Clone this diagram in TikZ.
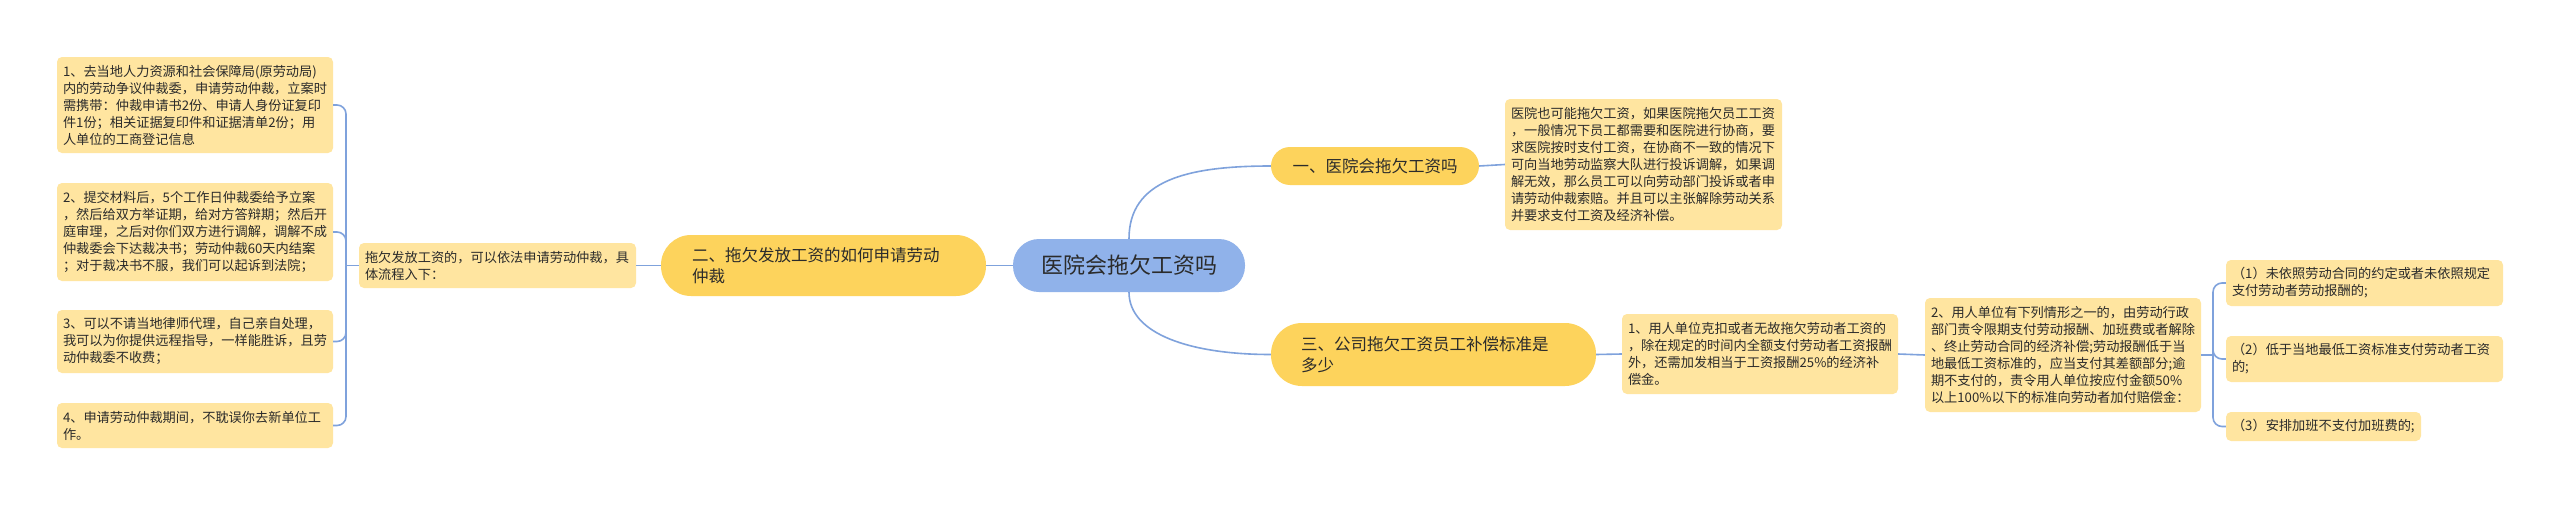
\documentclass[tikz,border=0pt]{standalone}
\usepackage{fontspec}
\newfontfamily\cjk{Noto Sans CJK SC}
\definecolor{leaf}{HTML}{FFE5A0}
\definecolor{topic}{HTML}{FDD35C}
\definecolor{central}{HTML}{90B2EA}
\definecolor{link}{HTML}{7FA2DC}
\definecolor{txt}{HTML}{2B2B2B}
\tikzset{
  leafbox/.style={draw=none, fill=leaf, rounded corners=5pt, inner xsep=6pt, inner ysep=0pt,
    text width=264pt, align=left, text=txt, font=\cjk\fontsize{13.2}{17}\selectfont},
  topicbox/.style={draw=none, fill=topic, inner ysep=0pt, text=txt,
    font=\cjk\fontsize{16.5}{21.5}\selectfont},
  centralbox/.style={draw=none, fill=central, rounded corners=26pt, inner sep=0pt, text=txt,
    minimum width=232pt, minimum height=53pt, font=\cjk\fontsize{22}{26}\selectfont},
  linkline/.style={draw=link, line width=1.6pt},
}
\begin{document}
\begin{tikzpicture}[x=1pt,y=-1pt]
\useasboundingbox (0,0) rectangle (2560,506);
\fill[white] (0,0) rectangle (2560,506);

% central
\node[centralbox] (C) at (1129,265.5) {医院会拖欠工资吗};

% topics
\node[topicbox, rounded corners=19pt, minimum width=208pt, minimum height=38pt, inner xsep=0pt] (T1) at (1375,166) {一、医院会拖欠工资吗};
\node[topicbox, rounded corners=30pt, text width=263pt, align=left, inner xsep=31pt, minimum height=61pt] (T2) at (823.5,265.5) {二、拖欠发放工资的如何申请劳动\\仲裁};
\node[topicbox, rounded corners=31pt, text width=265pt, align=left, inner xsep=30pt, minimum height=63pt] (T3) at (1433.5,354.5) {三、公司拖欠工资员工补偿标准是\\多少};

% left side
\node[leafbox, text width=265pt, minimum height=45pt] (M) at (497.5,265.5) {拖欠发放工资的，可以依法申请劳动仲裁，具\\体流程入下：};
\node[leafbox, minimum height=96pt] (L1) at (195,105) {1、去当地人力资源和社会保障局(原劳动局)\\内的劳动争议仲裁委，申请劳动仲裁，立案时\\需携带：仲裁申请书2份、申请人身份证复印\\件1份；相关证据复印件和证据清单2份；用\\人单位的工商登记信息};
\node[leafbox, minimum height=98pt] (L2) at (195,232) {2、提交材料后，5个工作日仲裁委给予立案\\，然后给双方举证期，给对方答辩期；然后开\\庭审理，之后对你们双方进行调解，调解不成\\仲裁委会下达裁决书；劳动仲裁60天内结案\\；对于裁决书不服，我们可以起诉到法院；};
\node[leafbox, minimum height=63pt] (L3) at (195,341.5) {3、可以不请当地律师代理，自己亲自处理，\\我可以为你提供远程指导，一样能胜诉，且劳\\动仲裁委不收费；};
\node[leafbox, minimum height=45pt] (L4) at (195,425.5) {4、申请劳动仲裁期间，不耽误你去新单位工\\作。};

% right side
\node[leafbox, text width=265pt, minimum height=131pt] (R1) at (1643.5,164.5) {医院也可能拖欠工资，如果医院拖欠员工工资\\，一般情况下员工都需要和医院进行协商，要\\求医院按时支付工资，在协商不一致的情况下\\可向当地劳动监察大队进行投诉调解，如果调\\解无效，那么员工可以向劳动部门投诉或者申\\请劳动仲裁索赔。并且可以主张解除劳动关系\\并要求支付工资及经济补偿。};
\node[leafbox, minimum height=80pt] (B1) at (1760,354) {1、用人单位克扣或者无故拖欠劳动者工资的\\，除在规定的时间内全额支付劳动者工资报酬\\外，还需加发相当于工资报酬25\%的经济补\\偿金。};
\node[leafbox, minimum height=114pt] (B2) at (2063,355) {2、用人单位有下列情形之一的，由劳动行政\\部门责令限期支付劳动报酬、加班费或者解除\\、终止劳动合同的经济补偿;劳动报酬低于当\\地最低工资标准的，应当支付其差额部分;逾\\期不支付的，责令用人单位按应付金额50\%\\以上100\%以下的标准向劳动者加付赔偿金：};
\node[leafbox, text width=265pt, minimum height=46pt] (S1) at (2364.5,283) {（1）未依照劳动合同的约定或者未依照规定\\支付劳动者劳动报酬的;};
\node[leafbox, text width=265pt, minimum height=46pt] (S2) at (2364.5,359) {（2）低于当地最低工资标准支付劳动者工资\\的;};
\node[leafbox, text width=183pt, minimum height=29pt] (S3) at (2323.5,426.5) {（3）安排加班不支付加班费的;};

% junction points
\coordinate (jl) at (346,265.5);
\coordinate (jr) at (2213,355);

% connectors
\draw[linkline] (C.west) -- (T2.east);
\draw[linkline] (T2.west) -- (M.east);
\draw[linkline] (M.west) -- (jl);
\draw[linkline, rounded corners=9pt] (jl) |- (L1.east);
\draw[linkline, rounded corners=9pt] (jl) |- (L2.east);
\draw[linkline, rounded corners=9pt] (jl) |- (L3.east);
\draw[linkline, rounded corners=9pt] (jl) |- (L4.east);
\draw[linkline] (C.north) .. controls +(0,-58) and +(-85,0) .. (T1.west);
\draw[linkline] (C.south) .. controls +(0,42) and +(-80,0) .. (T3.west);
\draw[linkline] (T1.east) -- (R1.west);
\draw[linkline] (T3.east) -- (B1.west);
\draw[linkline] (B1.east) -- (B2.west);
\draw[linkline] (B2.east) -- (jr);
\draw[linkline, rounded corners=9pt] (jr) |- (S1.west);
\draw[linkline, rounded corners=9pt] (jr) |- (S2.west);
\draw[linkline, rounded corners=9pt] (jr) |- (S3.west);
\end{tikzpicture}
\end{document}
